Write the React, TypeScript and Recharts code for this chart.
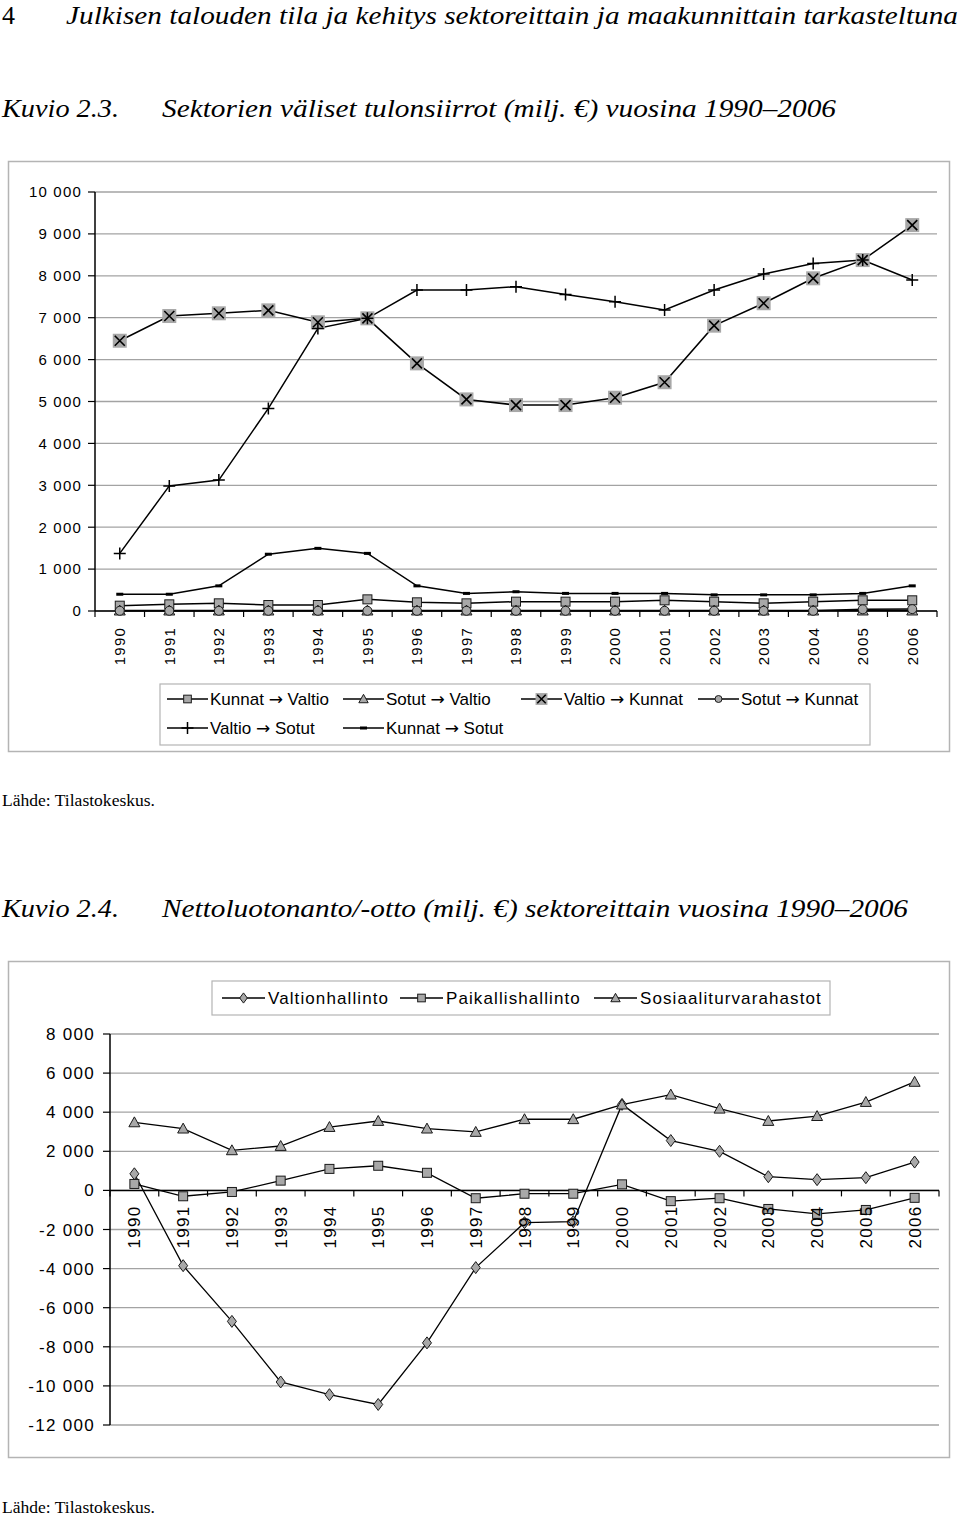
import React from 'react';
import { LineChart, Line, XAxis, YAxis, CartesianGrid, ReferenceLine } from 'recharts';

// ---------- Data ----------
const YEARS = ['1990', '1991', '1992', '1993', '1994', '1995', '1996', '1997', '1998', '1999', '2000', '2001', '2002', '2003', '2004', '2005', '2006'];

// Kuvio 2.3 series (milj. €)
const KUNNAT_VALTIO = [127, 159, 183, 143, 143, 278, 207, 183, 223, 223, 223, 255, 223, 183, 223, 255, 255];
const SOTUT_VALTIO = [10, 10, 10, 10, 10, 10, 10, 10, 10, 10, 10, 10, 10, 10, 10, 10, 10];
const VALTIO_KUNNAT = [6450, 7040, 7105, 7175, 6890, 6985, 5910, 5050, 4915, 4915, 5090, 5460, 6810, 7345, 7940, 8375, 9210];
const SOTUT_KUNNAT = [5, 5, 5, 5, 5, 5, 5, 5, 5, 5, 5, 5, 5, 5, 5, 40, 45];
const VALTIO_SOTUT = [1375, 2985, 3125, 4835, 6745, 6985, 7660, 7660, 7740, 7555, 7380, 7185, 7660, 8045, 8295, 8375, 7900];
const KUNNAT_SOTUT = [400, 400, 600, 1355, 1495, 1375, 600, 420, 460, 420, 420, 420, 385, 385, 385, 420, 600];
const Y1_TICKS = [0, 1000, 2000, 3000, 4000, 5000, 6000, 7000, 8000, 9000, 10000];

// Kuvio 2.4 series (milj. €)
const VALTIONHALLINTO = [850, -3850, -6700, -9800, -10450, -10950, -7800, -3950, -1650, -1600, 4400, 2550, 2000, 700, 550, 650, 1450];
const PAIKALLISHALLINTO = [330, -300, -80, 500, 1100, 1260, 900, -400, -170, -170, 310, -550, -400, -950, -1200, -1000, -380];
const SOSIAALITURVA = [3480, 3160, 2050, 2270, 3240, 3550, 3160, 2990, 3640, 3640, 4390, 4900, 4180, 3550, 3800, 4520, 5550];
const Y2_TICKS = [-12000, -10000, -8000, -6000, -4000, -2000, 0, 2000, 4000, 6000, 8000];

const SERIES1 = [
  { key: 'kv', from: 'Kunnat', to: 'Valtio', values: KUNNAT_VALTIO, marker: 'square' },
  { key: 'sv', from: 'Sotut', to: 'Valtio', values: SOTUT_VALTIO, marker: 'triangle' },
  { key: 'vk', from: 'Valtio', to: 'Kunnat', values: VALTIO_KUNNAT, marker: 'xbox' },
  { key: 'sk', from: 'Sotut', to: 'Kunnat', values: SOTUT_KUNNAT, marker: 'circle' },
  { key: 'vs', from: 'Valtio', to: 'Sotut', values: VALTIO_SOTUT, marker: 'plus' },
  { key: 'ks', from: 'Kunnat', to: 'Sotut', values: KUNNAT_SOTUT, marker: 'dash' },
];
const SERIES2 = [
  { key: 'vh', name: 'Valtionhallinto', values: VALTIONHALLINTO, marker: 'diamond' },
  { key: 'ph', name: 'Paikallishallinto', values: PAIKALLISHALLINTO, marker: 'square' },
  { key: 'st', name: 'Sosiaaliturvarahastot', values: SOSIAALITURVA, marker: 'triangle' },
];

const rows1 = YEARS.map((year, i) => {
  const r: any = { year };
  SERIES1.forEach((s) => { r[s.key] = s.values[i]; });
  return r;
});
const rows2 = YEARS.map((year, i) => {
  const r: any = { year };
  SERIES2.forEach((s) => { r[s.key] = s.values[i]; });
  return r;
});

// ---------- Style / layout ----------
const SANS = '"Liberation Sans", Arial, Helvetica, sans-serif';
const SERIF = '"Liberation Serif", "Times New Roman", serif';
const GRAY = '#a8a8a8';
const DARK = '#1a1a1a';
const GRID = '#a3a3a3';
const FRAME = '#b4b4b4';

const C1 = { w: 960, h: 531, m: { top: 32, right: 23, left: 35, bottom: 0 }, yw: 60, xh: 80 };
const PLOT1_W = C1.w - C1.m.left - C1.m.right - C1.yw;
const C2 = { w: 960, h: 475, m: { top: 74, right: 21, left: 50, bottom: 0 }, yw: 60, xh: 10 };
const PLOT2_W = C2.w - C2.m.left - C2.m.right - C2.yw;
const PLOT2_H = C2.h - C2.m.top - C2.m.bottom - C2.xh;
const Y2_MIN = -12000;
const Y2_MAX = 8000;

const fmt = (v: number): string => {
  if (v < 0) return '-' + fmt(-v);
  if (v >= 1000) return `${Math.floor(v / 1000)} ${String(v % 1000).padStart(3, '0')}`;
  return String(v);
};

const Marker = ({ kind, cx, cy, small }: any) => {
  if (cx == null || cy == null || isNaN(cx) || isNaN(cy)) return null;
  const k = small ? 0.85 : 1;
  switch (kind) {
    case 'square': {
      const s = 9 * k;
      return <rect x={cx - s / 2} y={cy - s / 2} width={s} height={s} fill={GRAY} stroke={DARK} strokeWidth={1} />;
    }
    case 'triangle': {
      const a = 5.5 * k;
      return <path d={`M${cx},${cy - a} L${cx + a},${cy + a * 0.8} L${cx - a},${cy + a * 0.8} Z`} fill={GRAY} stroke={DARK} strokeWidth={1} />;
    }
    case 'xbox': {
      const b = 7 * k;
      const x = 5 * k;
      return (
        <g>
          <rect x={cx - b} y={cy - b} width={2 * b} height={2 * b} fill={GRAY} />
          <path d={`M${cx - x},${cy - x} L${cx + x},${cy + x} M${cx + x},${cy - x} L${cx - x},${cy + x}`} stroke="#000" strokeWidth={1.6} />
        </g>
      );
    }
    case 'circle':
      return <circle cx={cx} cy={cy} r={small ? 3.5 : 4.5} fill={GRAY} stroke={DARK} strokeWidth={1} />;
    case 'plus':
      return <path d={`M${cx - 6},${cy} L${cx + 6},${cy} M${cx},${cy - 6} L${cx},${cy + 6}`} stroke="#000" strokeWidth={1.5} />;
    case 'dash':
      return <rect x={cx - 3.5} y={cy - 1.5} width={7} height={3} fill="#000" />;
    case 'diamond':
      return <path d={`M${cx},${cy - 6 * k} L${cx + 4.5 * k},${cy} L${cx},${cy + 6 * k} L${cx - 4.5 * k},${cy} Z`} fill={GRAY} stroke={DARK} strokeWidth={1} />;
    default:
      return null;
  }
};

const makeDot = (kind: string) => (p: any) => <Marker key={`d-${kind}-${p.index}`} kind={kind} cx={p.cx} cy={p.cy} />;

const XTick1 = (props: any) => {
  const { x, y, payload, index } = props;
  const half = PLOT1_W / YEARS.length / 2;
  const ty = y + 16;
  return (
    <g>
      <line x1={x - half} x2={x - half} y1={y} y2={y + 6} stroke="#000" strokeWidth={1.2} />
      {index === YEARS.length - 1 && <line x1={x + half} x2={x + half} y1={y} y2={y + 6} stroke="#000" strokeWidth={1.2} />}
      <text x={x} y={ty} dy="0.36em" transform={`rotate(-90 ${x} ${ty})`} textAnchor="end" fontFamily={SANS} fontSize={15} letterSpacing={1.2} fill="#000">
        {payload.value}
      </text>
    </g>
  );
};

const XTick2 = (props: any) => {
  const { x, y, payload, index } = props;
  const half = PLOT2_W / YEARS.length / 2;
  const zy = y - (PLOT2_H * (0 - Y2_MIN)) / (Y2_MAX - Y2_MIN);
  const ty = zy + 15;
  return (
    <g>
      <line x1={x - half} x2={x - half} y1={zy} y2={zy + 6} stroke="#000" strokeWidth={1.2} />
      {index === YEARS.length - 1 && <line x1={x + half} x2={x + half} y1={zy} y2={zy + 6} stroke="#000" strokeWidth={1.2} />}
      <text x={x} y={ty} dy="0.36em" transform={`rotate(-90 ${x} ${ty})`} textAnchor="end" fontFamily={SANS} fontSize={17} letterSpacing={1.3} fill="#000">
        {payload.value}
      </text>
    </g>
  );
};

// Legend layout
const LEGEND1_POS = [
  { x: 167, y: 699 }, { x: 343, y: 699 }, { x: 521, y: 699 }, { x: 698, y: 699 },
  { x: 167, y: 728 }, { x: 343, y: 728 },
];
const LEGEND2_POS = [{ x: 222, y: 998 }, { x: 400, y: 998 }, { x: 594, y: 998 }];

const Legend1 = () => (
  <g>
    <rect x={160} y={684} width={710} height={61} fill="#fff" stroke={FRAME} strokeWidth={1.2} />
    {SERIES1.map((s, i) => {
      const p = LEGEND1_POS[i];
      return (
        <g key={s.key}>
          <line x1={p.x} x2={p.x + 41} y1={p.y} y2={p.y} stroke="#000" strokeWidth={1.5} />
          <Marker kind={s.marker} cx={p.x + 20.5} cy={p.y} small />
          <text x={p.x + 43} y={p.y} dy="0.36em" fontFamily={SANS} fontSize={17} fill="#000">
            {s.from}{' '}
            <tspan fontFamily='"DejaVu Sans", sans-serif' fontSize={17}>→</tspan>
            {' '}{s.to}
          </text>
        </g>
      );
    })}
  </g>
);

const Legend2 = () => (
  <g>
    <rect x={212} y={981} width={618} height={34} fill="#fff" stroke={FRAME} strokeWidth={1.2} />
    {SERIES2.map((s, i) => {
      const p = LEGEND2_POS[i];
      return (
        <g key={s.key}>
          <line x1={p.x} x2={p.x + 43} y1={p.y} y2={p.y} stroke="#000" strokeWidth={1.5} />
          <Marker kind={s.marker} cx={p.x + 21.5} cy={p.y} small />
          <text x={p.x + 46} y={p.y} dy="0.36em" fontFamily={SANS} fontSize={17} letterSpacing={1.1} fill="#000">{s.name}</text>
        </g>
      );
    })}
  </g>
);

export default function App() {
  return (
    <div style={{ position: 'absolute', left: 0, top: 0, width: 960, height: 1518, background: '#fff', overflow: 'hidden' }}>
      <svg style={{ position: 'absolute', left: 0, top: 0 }} width={960} height={1518}>
        {/* page texts */}
        <text x={2} y={24} fontFamily={SERIF} fontSize={26} fill="#000">4</text>
        <text x={66} y={24} fontFamily={SERIF} fontStyle="italic" fontSize={26} fill="#000" textLength={892} lengthAdjust="spacingAndGlyphs">
          Julkisen talouden tila ja kehitys sektoreittain ja maakunnittain tarkasteltuna
        </text>
        <text x={2} y={117} fontFamily={SERIF} fontStyle="italic" fontSize={26} fill="#000" textLength={117} lengthAdjust="spacingAndGlyphs">Kuvio 2.3.</text>
        <text x={162} y={117} fontFamily={SERIF} fontStyle="italic" fontSize={26} fill="#000" textLength={674} lengthAdjust="spacingAndGlyphs">
          Sektorien väliset tulonsiirrot (milj. €) vuosina 1990–2006
        </text>
        <text x={2} y={806} fontFamily={SERIF} fontSize={17.5} fill="#000" textLength={153} lengthAdjust="spacingAndGlyphs">Lähde: Tilastokeskus.</text>
        <text x={2} y={917} fontFamily={SERIF} fontStyle="italic" fontSize={26} fill="#000" textLength={117} lengthAdjust="spacingAndGlyphs">Kuvio 2.4.</text>
        <text x={162} y={917} fontFamily={SERIF} fontStyle="italic" fontSize={26} fill="#000" textLength={746} lengthAdjust="spacingAndGlyphs">
          Nettoluotonanto/-otto (milj. €) sektoreittain vuosina 1990–2006
        </text>
        <text x={2} y={1513} fontFamily={SERIF} fontSize={17.5} fill="#000" textLength={153} lengthAdjust="spacingAndGlyphs">Lähde: Tilastokeskus.</text>

        {/* chart frames */}
        <rect x={8.5} y={161.5} width={941} height={590} fill="#fff" stroke={FRAME} strokeWidth={1.5} />
        <rect x={8.5} y={961.5} width={941} height={496} fill="#fff" stroke={FRAME} strokeWidth={1.5} />

        <Legend1 />
        <Legend2 />
      </svg>

      <div style={{ position: 'absolute', left: 0, top: 160 }}>
        <LineChart width={C1.w} height={C1.h} data={rows1} margin={C1.m}>
          <CartesianGrid vertical={false} stroke={GRID} strokeWidth={1.3} />
          <XAxis
            dataKey="year"
            scale="band"
            height={C1.xh}
            interval={0}
            tickSize={0}
            tickMargin={0}
            tickLine={false}
            axisLine={{ stroke: '#000', strokeWidth: 1.5 }}
            tick={(p: any) => <XTick1 {...p} />}
          />
          <YAxis
            domain={[0, 10000]}
            ticks={Y1_TICKS}
            interval={0}
            width={C1.yw}
            tickSize={7}
            tickMargin={6}
            tickFormatter={fmt}
            axisLine={{ stroke: '#000', strokeWidth: 1.5 }}
            tickLine={{ stroke: '#000', strokeWidth: 1.2 }}
            tick={{ fontFamily: SANS, fontSize: 15, fill: '#000', letterSpacing: 1.2 } as any}
          />
          <YAxis yAxisId="r" orientation="right" width={0} domain={[0, 1]} tick={false} tickLine={false} axisLine={{ stroke: GRID, strokeWidth: 1.3 }} />
          {SERIES1.map((s) => (
            <Line
              key={s.key}
              type="linear"
              dataKey={s.key}
              name={`${s.from} → ${s.to}`}
              stroke="#000"
              strokeWidth={1.5}
              dot={makeDot(s.marker)}
              activeDot={false}
              isAnimationActive={false}
            />
          ))}
        </LineChart>
      </div>

      <div style={{ position: 'absolute', left: 0, top: 960 }}>
        <LineChart width={C2.w} height={C2.h} data={rows2} margin={C2.m}>
          <CartesianGrid vertical={false} stroke={GRID} strokeWidth={1.3} />
          <XAxis
            dataKey="year"
            scale="band"
            height={C2.xh}
            interval={0}
            tickSize={0}
            tickMargin={0}
            tickLine={false}
            axisLine={false}
            tick={(p: any) => <XTick2 {...p} />}
          />
          <YAxis
            domain={[Y2_MIN, Y2_MAX]}
            ticks={Y2_TICKS}
            interval={0}
            width={C2.yw}
            tickSize={7}
            tickMargin={8}
            tickFormatter={fmt}
            axisLine={{ stroke: '#000', strokeWidth: 1.5 }}
            tickLine={{ stroke: '#000', strokeWidth: 1.2 }}
            tick={{ fontFamily: SANS, fontSize: 17, fill: '#000', letterSpacing: 1.3 } as any}
          />
          <YAxis yAxisId="r" orientation="right" width={0} domain={[0, 1]} tick={false} tickLine={false} axisLine={{ stroke: GRID, strokeWidth: 1.3 }} />
          <ReferenceLine y={0} stroke="#000" strokeWidth={1.5} />
          {SERIES2.map((s) => (
            <Line
              key={s.key}
              type="linear"
              dataKey={s.key}
              name={s.name}
              stroke="#000"
              strokeWidth={1.3}
              dot={makeDot(s.marker)}
              activeDot={false}
              isAnimationActive={false}
            />
          ))}
        </LineChart>
      </div>
    </div>
  );
}
